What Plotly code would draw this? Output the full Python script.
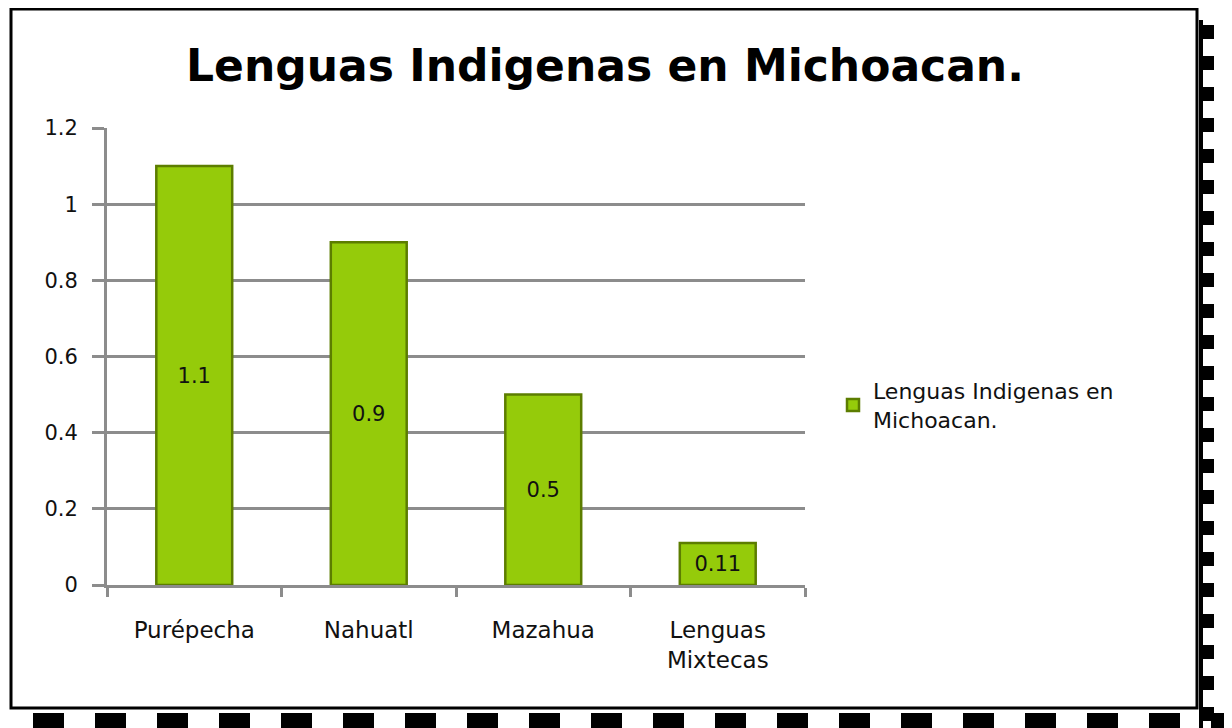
import plotly.graph_objects as go

categories = ["Purépecha", "Nahuatl", "Mazahua", "Lenguas Mixtecas"]
tick_labels = ["Purépecha", "Nahuatl", "Mazahua", "Lenguas<br>Mixtecas"]
values = [1.1, 0.9, 0.5, 0.11]
value_labels = ["1.1", "0.9", "0.5", "0.11"]
series_name = "Lenguas Indigenas en<br>Michoacan."
title_text = "Lenguas Indigenas en Michoacan."

FONT = "DejaVu Sans"
OFF = 8  # page body margin
W, H = 1232 - OFF, 728 - OFF

# target plot-area edges in page pixels
PX0, PX1, PY0, PY1 = 107, 805, 128, 585
L, R = PX0 - OFF, W - (PX1 - OFF)
T, B = PY0 - OFF, H - (PY1 - OFF)
PW, PH = PX1 - PX0, PY1 - PY0

def px(x):
    return (x - PX0) / PW

def py(y):
    return (PY1 - y) / PH

fig = go.Figure()
fig.add_trace(go.Bar(
    x=categories, y=values, name=series_name,
    text=value_labels, textposition="inside", insidetextanchor="middle",
    textfont=dict(family=FONT, size=21, color="#111111"),
    marker=dict(color="#95cb0a", line=dict(color="#5c7d00", width=2.5)),
    showlegend=True,
))

shapes = []
# outer frame
shapes.append(dict(type="rect", xref="paper", yref="paper",
                   x0=px(11), x1=px(1197), y0=py(708), y1=py(9),
                   line=dict(color="black", width=3), fillcolor="rgba(0,0,0,0)", layer="below"))
# bottom checkered strip
x = 33
i = 0
while x < 1232:
    color = "black" if i % 2 == 0 else "white"
    shapes.append(dict(type="rect", xref="paper", yref="paper",
                       x0=px(x), x1=px(x + 31), y0=py(728), y1=py(713),
                       line=dict(width=0), fillcolor=color))
    x += 31
    i += 1
# right tabbed strip
shapes.append(dict(type="rect", xref="paper", yref="paper",
                   x0=px(1199), x1=px(1203), y0=py(728), y1=py(20),
                   line=dict(width=0), fillcolor="black"))
y = 25
while y < 720:
    shapes.append(dict(type="rect", xref="paper", yref="paper",
                       x0=px(1199), x1=px(1214), y0=py(y + 14), y1=py(y),
                       line=dict(width=0), fillcolor="black"))
    y += 31

fig.update_layout(
    width=W, height=H,
    margin=dict(l=L, r=R, t=T, b=B),
    paper_bgcolor="white", plot_bgcolor="white",
    font=dict(family=FONT, color="#111111"),
    title=dict(text="<b>" + title_text + "</b>",
               x=((183 + 1027) / 2 - OFF) / W, xanchor="center",
               y=1 - (66 - OFF) / H, yanchor="middle",
               font=dict(family=FONT, size=44, color="black")),
    bargap=0.565,
    showlegend=True,
    legend=dict(x=px(833), y=py(370), xanchor="left", yanchor="top",
                font=dict(family=FONT, size=22, color="#111111"),
                bgcolor="rgba(0,0,0,0)"),
    shapes=shapes,
)
fig.update_xaxes(
    tickvals=categories, ticktext=tick_labels, tickson="boundaries",
    ticks="outside", ticklen=9, tickwidth=2.5, tickcolor="#8c8c8c",
    showline=True, linecolor="#8c8c8c", linewidth=3,
    tickfont=dict(family=FONT, size=23, color="#111111"),
    ticklabelstandoff=22,
    showgrid=False,
)
fig.update_yaxes(
    range=[0, 1.2], tickvals=[0, 0.2, 0.4, 0.6, 0.8, 1.0, 1.2],
    ticktext=["0", "0.2", "0.4", "0.6", "0.8", "1", "1.2"],
    ticks="outside", ticklen=12, tickwidth=3, tickcolor="#8c8c8c",
    showline=True, linecolor="#8c8c8c", linewidth=3,
    showgrid=True, gridcolor="#8c8c8c", gridwidth=3,
    zeroline=False,
    ticklabelstandoff=10,
    tickfont=dict(family=FONT, size=21, color="#111111"),
)

fig.write_html("out.html")
